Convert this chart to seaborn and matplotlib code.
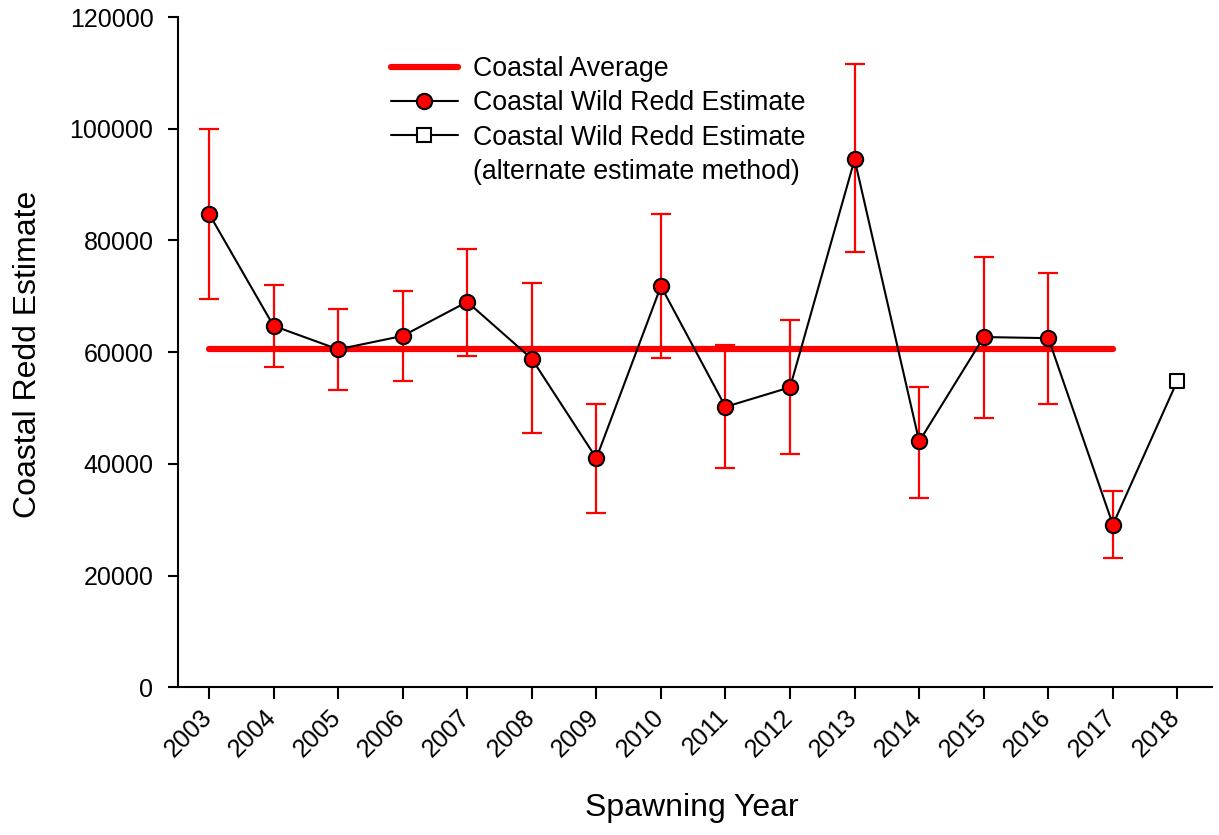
import matplotlib
matplotlib.use("Agg")
import matplotlib.pyplot as plt
from matplotlib.lines import Line2D
from matplotlib.transforms import ScaledTranslation
import matplotlib.font_manager as fm
import numpy as np
import pandas as pd
import seaborn as sns

# Annual coastal wild redd estimates with confidence bounds
years = [2003, 2004, 2005, 2006, 2007, 2008, 2009, 2010, 2011, 2012,
         2013, 2014, 2015, 2016, 2017, 2018]
estimates = [84800, 64700, 60500, 62900, 69000, 58800, 41000, 71800, 50200,
             53700, 94500, 44000, 62700, 62500, 29100, 54900]
lower = [69500, 57300, 53200, 54800, 59300, 45500, 31200, 58900, 39300,
         41800, 77900, 33800, 48200, 50700, 23200, None]
upper = [99900, 72000, 67800, 71000, 78500, 72300, 50700, 84700, 61200,
         65700, 111600, 53800, 77100, 74200, 35200, None]
method = ["standard"] * 15 + ["alternate"]
coastal_average = 60600
average_years = [2003, 2017]

df = pd.DataFrame({"year": years, "estimate": estimates,
                   "lower": lower, "upper": upper, "method": method})

sns.set_style("ticks")
base_font = ["Liberation Sans", "DejaVu Sans"]
plt.rcParams["font.family"] = base_font
for key in ("text.color", "axes.labelcolor", "xtick.color", "ytick.color",
            "axes.edgecolor"):
    plt.rcParams[key] = "black"

available = {f.name for f in fm.fontManager.ttflist}
if "Liberation Sans Narrow" in available:
    label_font = dict(family=["Liberation Sans Narrow", "DejaVu Sans"], size=28)
else:
    label_font = dict(family=base_font, size=23)

fig = plt.figure(figsize=(12.19, 8.35), dpi=100)
ax = fig.add_axes([0.146, 0.177, 0.848, 0.8026])

# long-term average across the standard-method years
ax.plot(average_years, [coastal_average] * 2, color="#ff0000", lw=4.5,
        solid_capstyle="round", zorder=2)

# confidence intervals
std = df[df["method"] == "standard"]
ax.errorbar(std["year"], std["estimate"],
            yerr=[std["estimate"] - std["lower"], std["upper"] - std["estimate"]],
            fmt="none", ecolor="#ff0000", elinewidth=1.6, capsize=7,
            capthick=1.6, zorder=3)

# connecting line through every year
sns.lineplot(data=df, x="year", y="estimate", color="black", lw=1.5,
             ax=ax, zorder=4, legend=False)

# markers: filled circles for the standard method, open square for the alternate
sns.scatterplot(data=std, x="year", y="estimate", marker="o", s=121,
                color="#ff0000", edgecolor="black", linewidth=1.5,
                ax=ax, zorder=5, legend=False)
alt = df[df["method"] == "alternate"]
sns.scatterplot(data=alt, x="year", y="estimate", marker="s", s=100,
                color="white", edgecolor="black", linewidth=1.5,
                ax=ax, zorder=5, legend=False)

ax.set_xlim(2002.52, 2018.53)
ax.set_ylim(0, 120000)
ax.set_xticks(years)
ax.set_xticklabels([str(y) for y in years], rotation=45, ha="right",
                   va="baseline", rotation_mode="anchor", fontsize=18)
ax.set_yticks(np.arange(0, 120001, 20000))
ax.set_yticklabels([str(v) for v in range(0, 120001, 20000)], fontsize=18)
ax.tick_params(axis="y", direction="out", length=7.2, width=1.5, pad=10.5)
ax.tick_params(axis="x", direction="out", length=8.5, width=1.5, pad=14)
for side in ("left", "bottom"):
    ax.spines[side].set_linewidth(1.5)
sns.despine(ax=ax)

# nudge the slanted year labels so they sit just right of their ticks
nudge = ScaledTranslation(4 / 100, 0, fig.dpi_scale_trans)
for lbl in ax.get_xticklabels():
    lbl.set_transform(lbl.get_transform() + nudge)

ax.set_xlabel("Spawning Year", **label_font)
ax.set_ylabel("Coastal Redd Estimate", **label_font)
ax.xaxis.set_label_coords(0.497, -0.158)
ax.yaxis.set_label_coords(-0.131, 0.496)

handles = [
    Line2D([], [], color="#ff0000", lw=4.5, solid_capstyle="round"),
    Line2D([], [], color="black", lw=1.5, marker="o", markersize=11,
           markerfacecolor="#ff0000", markeredgecolor="black", markeredgewidth=1.5),
    Line2D([], [], color="black", lw=1.5, marker="s", markersize=10,
           markerfacecolor="white", markeredgecolor="black", markeredgewidth=1.5),
    Line2D([], [], color="none"),
]
labels = ["Coastal Average", "Coastal Wild Redd Estimate",
          "Coastal Wild Redd Estimate", "(alternate estimate method)"]
ax.legend(handles, labels, loc="upper left", bbox_to_anchor=(0.206, 0.942),
          frameon=False, fontsize=19.3, handlelength=2.5, handletextpad=0.55,
          labelspacing=0.31, borderpad=0, borderaxespad=0)

fig.savefig("out.png", dpi=100)
